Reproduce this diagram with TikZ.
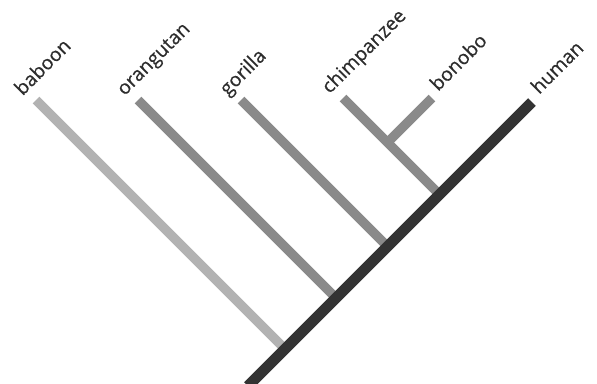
\documentclass[tikz,border=0pt]{standalone}
\usepackage{fontspec}
\setmainfont{Open Sans}[FakeBold=0.5]
\usepackage{tikz}
\usetikzlibrary{calc}
\usepackage{xcolor}
\definecolor{apeink}{RGB}{45,45,45}
\definecolor{apelight}{RGB}{178,178,178}
\definecolor{apemid}{RGB}{138,138,138}
\definecolor{apedark}{RGB}{51,51,51}
\tikzset{
    branch/.style={line width=7pt, line cap=butt},
    trunk/.style={line width=8pt, line cap=butt, draw=apedark},
    taxon/.style={rotate=45, inner sep=0pt, anchor=base west, text=apeink, font=\fontsize{14.5}{16}\selectfont},
}

\begin{document}
\begin{tikzpicture}[x=0.75pt, y=-0.75pt]
    \useasboundingbox (0,0) rectangle (597,383);
    \coordinate (root) at (248,386);
    \coordinate (human) at (532,102);
    \coordinate (bonobo) at (432,98);
    \coordinate (kbonobo) at (387.5,142.5);
    \foreach \tip/\x/\y/\jx/\jy/\col in {baboon/36/100/285/349/apelight, orangutan/138/100/336/298/apemid, gorilla/241/100/387.5/246.5/apemid, chimpanzee/343/98/439.5/194.5/apemid} {
        \coordinate (\tip) at (\x,\y);
        \coordinate (k\tip) at (\jx,\jy);
        \draw[branch, draw=\col] (\tip) -- (k\tip);
        \node[taxon] (l\tip) at ($(\tip)+(-13.5,-3.5)$) {\tip};
    }
    \draw[branch, draw=apemid] (kbonobo) -- (bonobo);
    \node[taxon] (lbonobo) at ($(bonobo)+(6,-6)$) {bonobo};
    \draw[trunk] (root) -- (human);
    \node[taxon] (lhuman) at ($(human)+(7,-7)$) {human};
\end{tikzpicture}
\end{document}
